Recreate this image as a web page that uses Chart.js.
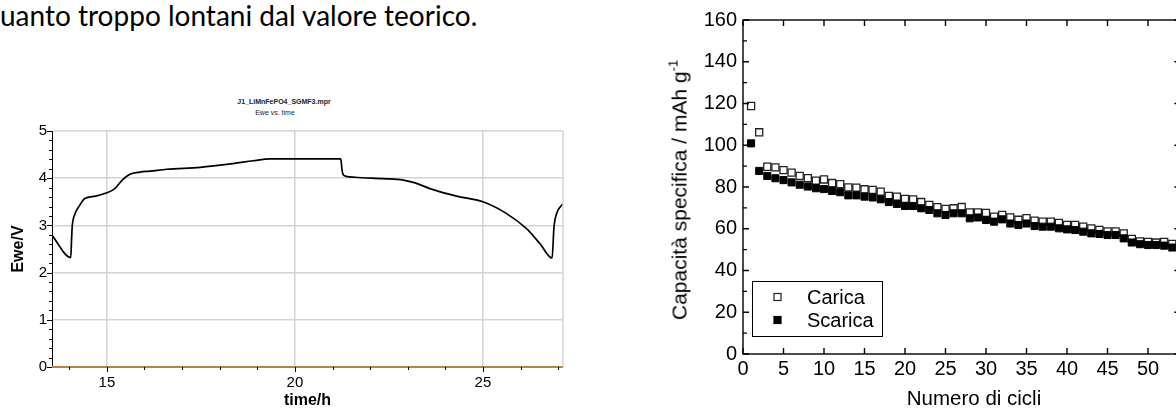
<!DOCTYPE html>
<html lang="it">
<head>
<meta charset="utf-8">
<title>Ewe vs. time / Capacità specifica</title>
<script src="https://cdn.jsdelivr.net/npm/chart.js@4.4.1/dist/chart.umd.min.js"></script>
<style>
  html, body { margin: 0; padding: 0; background: #fff; }
  body { width: 1176px; height: 410px; overflow: hidden; position: relative; }
  .testo { position: absolute; left: 0; top: 1px; font: 28px/1 Lato, sans-serif; color: #000; white-space: nowrap; }
  .box { position: absolute; }
  .mini { position: absolute; font-family: 'Liberation Sans', Arial, sans-serif; font-size: 7px; color: #222; white-space: nowrap; transform: translate(-50%, -50%); }
  .asse { position: absolute; font-family: 'Liberation Sans', Arial, sans-serif; font-size: 21px; line-height: 1; color: #000; white-space: nowrap; }
  .asse sup { font-size: 13px; line-height: 0; vertical-align: 9px; }
</style>
</head>
<body>
<div class="testo">uanto troppo lontani dal valore teorico.</div>

<div class="mini" style="left:284px; top:101px; font-weight:bold;">J1_LiMnFePO4_SGMF3.mpr</div>
<div class="mini" style="left:275px; top:112px;">Ewe vs. time</div>
<div class="box" style="left:0; top:80px;"><canvas id="ewe" width="580" height="330"></canvas></div>

<div class="box" style="left:660px; top:0;"><canvas id="cap" width="540" height="410"></canvas></div>
<div class="asse" style="left:679px; top:190px; transform: translate(-50%,-50%) rotate(-90deg);">Capacità specifica / mAh g<sup>-1</sup></div>
<div class="asse" style="left:974px; top:398px; font-size:20.5px; transform: translate(-50%,-50%);">Numero di cicli</div>

<script>
// --- grafico a sinistra: Ewe vs. time ---
const tempoH = [13.54, 14.04, 14.06, 14.08, 14.13, 14.28, 14.41, 14.7, 15.0, 15.21, 15.42, 15.6, 15.88, 16.15,
  16.59, 17.48, 18.36, 18.89, 19.34, 21.22, 21.25, 21.28, 21.36, 21.6, 22.35, 22.88, 23.2, 23.59, 24.3, 25.0,
  25.63, 26.16, 26.52, 26.84, 26.89, 26.96, 27.13];
const eweV = [2.79, 2.32, 2.7, 3.0, 3.2, 3.43, 3.57, 3.62, 3.69, 3.78, 3.97, 4.08, 4.13, 4.15,
  4.19, 4.23, 4.31, 4.37, 4.41, 4.41, 4.2, 4.08, 4.04, 4.02, 3.99, 3.96, 3.9, 3.78, 3.62, 3.50,
  3.25, 2.93, 2.61, 2.31, 2.96, 3.25, 3.46];
const tempoI = [13.54, 27.13];
const correnteI = [0, 0];
const tickTempo = [15, 20, 25];
const tickEwe = [0, 1, 2, 3, 4, 5];

// --- grafico a destra: capacità vs. cicli ---
const cicli = [1, 2, 3, 4, 5, 6, 7, 8, 9, 10, 11, 12, 13, 14, 15, 16, 17, 18, 19, 20, 21, 22, 23, 24, 25, 26, 27,
  28, 29, 30, 31, 32, 33, 34, 35, 36, 37, 38, 39, 40, 41, 42, 43, 44, 45, 46, 47, 48, 49, 50, 51, 52, 53];
const carica = [118.8, 106.2, 89.7, 89.4, 88.1, 86.9, 85.3, 84.2, 83.0, 83.6, 81.9, 81.4, 79.8, 79.7, 78.9, 78.6,
  77.8, 75.7, 75.4, 74.3, 74.1, 72.8, 71.4, 70.3, 69.5, 69.8, 70.4, 67.8, 67.8, 67.6, 65.8, 66.6, 65.4, 64.3,
  65.1, 63.9, 63.4, 63.4, 62.8, 61.8, 61.8, 61.0, 60.2, 59.4, 58.7, 58.7, 57.8, 55.1, 53.9, 53.7, 53.4, 53.7, 52.7];
const scarica = [100.9, 87.7, 85.3, 84.2, 83.3, 82.2, 81.1, 80.2, 79.4, 79.0, 78.1, 77.5, 76.0, 76.0, 75.4, 75.0,
  74.1, 72.8, 71.9, 70.9, 70.9, 69.8, 69.0, 67.4, 66.6, 67.4, 67.4, 65.0, 65.4, 64.2, 63.4, 64.5, 62.5, 61.8,
  62.5, 61.3, 61.0, 61.0, 60.2, 59.7, 59.4, 58.6, 57.8, 57.5, 57.0, 57.0, 55.4, 53.4, 52.6, 52.2, 52.2, 51.9, 51.0];
const tickCicli = [0, 5, 10, 15, 20, 25, 30, 35, 40, 45, 50];
const tickCap = [0, 20, 40, 60, 80, 100, 120, 140, 160];

Chart.defaults.font.family = "'Liberation Sans', Arial, sans-serif";
Chart.defaults.color = '#000';

const punti = (xs, ys) => xs.map((x, i) => ({ x: x, y: ys[i] }));
const fissaTick = arr => s => { s.ticks = arr.map(v => ({ value: v })); };

// cornice grigia e tacche piccole del grafico EC-Lab
const tacche = {
  id: 'tacche',
  afterDraw(chart) {
    const { ctx, chartArea: a, scales: { x, y } } = chart;
    ctx.save();
    ctx.strokeStyle = '#d4d4d4';
    ctx.lineWidth = 1.5;
    ctx.beginPath();
    ctx.moveTo(a.right, a.top);
    ctx.lineTo(a.right, a.bottom);
    ctx.stroke();
    ctx.strokeStyle = '#000';
    ctx.lineWidth = 1;
    ctx.beginPath();
    for (let v = 14; v <= 27; v++) {
      const px = Math.round(x.getPixelForValue(v)) + 0.5;
      const l = v % 5 === 0 ? 5 : 3;
      ctx.moveTo(px, a.bottom);
      ctx.lineTo(px, a.bottom + l);
    }
    for (let v = 0; v <= 5.001; v += 0.2) {
      const py = Math.round(y.getPixelForValue(v)) + 0.5;
      const l = Math.abs(v - Math.round(v)) < 0.01 ? 5 : 3;
      ctx.moveTo(a.left, py);
      ctx.lineTo(a.left - l, py);
    }
    ctx.stroke();
    ctx.restore();
  }
};

new Chart(document.getElementById('ewe'), {
  type: 'scatter',
  data: {
    datasets: [{
      label: 'Ewe/V',
      data: punti(tempoH, eweV),
      showLine: true,
      borderColor: '#000',
      borderWidth: 1.7,
      pointRadius: 0,
      cubicInterpolationMode: 'monotone'
    }, {
      label: 'I',
      data: punti(tempoI, correnteI),
      showLine: true,
      borderColor: '#c0803e',
      borderWidth: 2.2,
      pointRadius: 0,
      clip: false
    }]
  },
  options: {
    responsive: false,
    animation: false,
    layout: { padding: { top: 51, right: 17, left: 0, bottom: 0 } },
    plugins: { legend: { display: false }, tooltip: { enabled: false } },
    scales: {
      x: {
        type: 'linear', min: 13.54, max: 27.13,
        afterBuildTicks: fissaTick(tickTempo),
        ticks: { font: { size: 15 }, padding: 7, maxRotation: 0 },
        grid: { color: '#d4d4d4', lineWidth: 1.5, drawTicks: false },
        border: { display: false },
        title: { display: true, text: 'time/h', font: { size: 16, weight: 'bold' }, padding: 0 },
        afterFit: s => { s.height = 43; }
      },
      y: {
        type: 'linear', min: 0, max: 5,
        afterBuildTicks: fissaTick(tickEwe),
        ticks: { font: { size: 15 }, padding: 5 },
        grid: { color: '#d4d4d4', lineWidth: 1.5, drawTicks: false },
        border: { display: true, color: '#000', width: 1 },
        title: { display: true, text: 'Ewe/V', font: { size: 16, weight: 'bold' }, padding: { top: 9 } },
        afterFit: s => { s.width = 52; }
      }
    }
  },
  plugins: [tacche]
});

// cornice, tacche interne e legenda del grafico Origin
const cornice = {
  id: 'cornice',
  afterDraw(chart) {
    const { ctx, chartArea: a, scales: { x, y } } = chart;
    ctx.save();
    ctx.strokeStyle = '#000';
    ctx.lineWidth = 1.4;
    ctx.strokeRect(a.left, a.top, a.right - a.left, a.bottom - a.top);
    ctx.beginPath();
    x.ticks.forEach(t => {
      const px = x.getPixelForValue(t.value);
      ctx.moveTo(px, a.bottom); ctx.lineTo(px, a.bottom - 6);
      ctx.moveTo(px, a.top); ctx.lineTo(px, a.top + 6);
    });
    y.ticks.forEach(t => {
      const py = y.getPixelForValue(t.value);
      ctx.moveTo(a.left, py); ctx.lineTo(a.left + 6, py);
      ctx.moveTo(a.right, py); ctx.lineTo(a.right - 6, py);
    });
    for (let v = 10; v < 160; v += 20) {
      const py = y.getPixelForValue(v);
      ctx.moveTo(a.left, py); ctx.lineTo(a.left + 4, py);
    }
    ctx.stroke();

    // legenda
    ctx.lineWidth = 1;
    ctx.fillStyle = '#fff';
    ctx.fillRect(92.5, 281.5, 130, 55);
    ctx.strokeRect(92.5, 281.5, 130, 55);
    ctx.font = "20px 'Liberation Sans', Arial, sans-serif";
    ctx.textBaseline = 'middle';
    const ds = chart.data.datasets;
    [[ds[0], 297], [ds[1], 320]].forEach(([d, yy]) => {
      ctx.fillStyle = d.backgroundColor;
      ctx.fillRect(114, yy - 3.5, 7, 7);
      ctx.strokeStyle = d.borderColor;
      ctx.lineWidth = 1.2;
      ctx.strokeRect(114, yy - 3.5, 7, 7);
      ctx.fillStyle = '#000';
      ctx.fillText(d.label, 147, yy + 1);
    });
    ctx.restore();
  }
};

new Chart(document.getElementById('cap'), {
  type: 'scatter',
  data: {
    datasets: [{
      label: 'Carica',
      data: punti(cicli, carica),
      pointStyle: 'rect',
      pointRadius: 5,
      backgroundColor: '#fff',
      borderColor: '#222',
      borderWidth: 1.3,
      order: 1
    }, {
      label: 'Scarica',
      data: punti(cicli, scarica),
      pointStyle: 'rect',
      pointRadius: 5,
      backgroundColor: '#000',
      borderColor: '#000',
      borderWidth: 1,
      order: 0
    }]
  },
  options: {
    responsive: false,
    animation: false,
    layout: { padding: { top: 20, right: 19.6, left: 0, bottom: 0 } },
    plugins: { legend: { display: false }, tooltip: { enabled: false } },
    scales: {
      x: {
        type: 'linear', min: 0, max: 54,
        afterBuildTicks: fissaTick(tickCicli),
        ticks: { font: { size: 20 }, padding: 3, maxRotation: 0, autoSkip: false },
        grid: { display: false, drawTicks: false },
        border: { display: false },
        afterFit: s => { s.height = 56; }
      },
      y: {
        type: 'linear', min: 0, max: 160,
        afterBuildTicks: fissaTick(tickCap),
        ticks: { font: { size: 20 }, padding: 6, autoSkip: false },
        grid: { display: false, drawTicks: false },
        border: { display: false },
        afterFit: s => { s.width = 83; }
      }
    }
  },
  plugins: [cornice]
});
</script>
</body>
</html>
